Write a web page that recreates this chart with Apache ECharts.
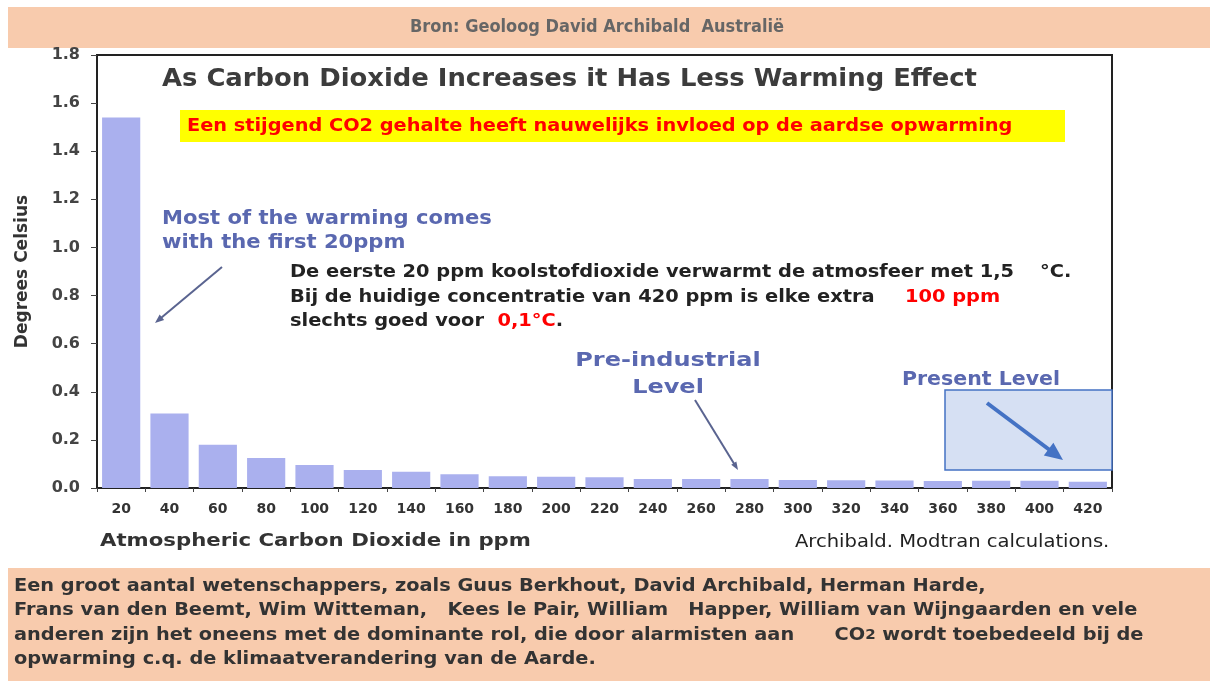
<!DOCTYPE html>
<html>
<head>
<meta charset="utf-8">
<script src="https://cdn.jsdelivr.net/npm/echarts@6/dist/echarts.min.js"></script>
<style>
  html, body { margin: 0; padding: 0; background: #fff; }
  #chart { width: 1210px; height: 682px; }
</style>
</head>
<body>
<div id="chart"></div>
<script>
// CO2 concentration (ppm) per bar
var ppm = ['20', '40', '60', '80', '100', '120', '140', '160', '180', '200', '220',
  '240', '260', '280', '300', '320', '340', '360', '380', '400', '420'];
// warming per extra 20 ppm, degrees Celsius
var warming = [1.54, 0.31, 0.18, 0.125, 0.096, 0.075, 0.068, 0.057, 0.049, 0.047, 0.045,
  0.037, 0.037, 0.037, 0.033, 0.032, 0.031, 0.029, 0.030, 0.030, 0.026];

var blueText = '#5a68b0';
var peach = '#f8cbad';

// arrow head polygon at (x2,y2)
function head(x1, y1, x2, y2, len, wid, color) {
  var a = Math.atan2(y2 - y1, x2 - x1);
  var bx = x2 - len * Math.cos(a), by = y2 - len * Math.sin(a);
  var px = -Math.sin(a) * wid / 2, py = Math.cos(a) * wid / 2;
  return {
    type: 'polygon', silent: true,
    shape: { points: [[x2, y2], [bx + px, by + py], [bx - px, by - py]] },
    style: { fill: color }
  };
}
function arrow(x1, y1, x2, y2, w, color, len, wid) {
  var a = Math.atan2(y2 - y1, x2 - x1);
  return [
    {
      type: 'line', silent: true,
      shape: { x1: x1, y1: y1, x2: x2 - len * 0.6 * Math.cos(a), y2: y2 - len * 0.6 * Math.sin(a) },
      style: { stroke: color, lineWidth: w }
    },
    head(x1, y1, x2, y2, len, wid, color)
  ];
}
// text element; sx = horizontal stretch
function txt(x, y, text, font, color, sx, extra) {
  var s = { text: text, font: font, fill: color, textVerticalAlign: 'middle' };
  if (extra) for (var k in extra) s[k] = extra[k];
  return { type: 'text', silent: true, x: x, y: y, scaleX: sx || 1, style: s };
}

var bold18 = 'bold 18px "DejaVu Sans"';
var blueFont = 'bold 19px "DejaVu Sans"';

var graphics = [
  // top banner
  { type: 'rect', silent: true, shape: { x: 8, y: 7, width: 1202, height: 41 }, style: { fill: peach } },
  txt(597, 27, 'Bron: Geoloog David Archibald  Australië', 'bold 18px "DejaVu Sans"', '#666', 0.9, { textAlign: 'center' }),
  // title
  txt(162, 80, 'As Carbon Dioxide Increases it Has Less Warming Effect', 'bold 24px "DejaVu Sans"', '#3c3c3c', 1.077),
  // yellow box
  { type: 'rect', silent: true, shape: { x: 180, y: 110, width: 885, height: 32 }, style: { fill: '#ffff00' } },
  txt(187, 126, 'Een stijgend CO2 gehalte heeft nauwelijks invloed op de aardse opwarming', bold18, '#ff0000', 1.073),
  // blue notes
  txt(162, 219, 'Most of the warming comes', blueFont, blueText, 1.11),
  txt(162, 243, 'with the first 20ppm', blueFont, blueText, 1.11),
  txt(668, 361, 'Pre-industrial', 'bold 20px "DejaVu Sans"', blueText, 1.2, { textAlign: 'center' }),
  txt(668, 388, 'Level', 'bold 20px "DejaVu Sans"', blueText, 1.2, { textAlign: 'center' }),
  txt(981, 380, 'Present Level', blueFont, blueText, 1.08, { textAlign: 'center' }),
  // black note
  txt(290, 272, 'De eerste 20 ppm koolstofdioxide verwarmt de atmosfeer met 1,5', bold18, '#222', 1.077),
  txt(1040, 272, '°C.', bold18, '#222', 1.077),
  txt(290, 297, 'Bij de huidige concentratie van 420 ppm is elke extra', bold18, '#222', 1.077),
  txt(905, 297, '100 ppm', bold18, '#ff0000', 1.077),
  {
    type: 'text', silent: true, x: 290, y: 321, scaleX: 1.077,
    style: {
      text: '{k|slechts goed voor  }{r|0,1°C}{k|.}', textVerticalAlign: 'middle',
      rich: { k: { font: bold18, fill: '#222' }, r: { font: bold18, fill: '#ff0000' } }
    }
  },
  // present level box
  { type: 'rect', silent: true, shape: { x: 945, y: 390, width: 167, height: 80 },
    style: { fill: '#d6e0f3', stroke: '#4472c4', lineWidth: 1.5 } },
  // axis titles / source
  txt(100, 541, 'Atmospheric Carbon Dioxide in ppm', bold18, '#333', 1.18),
  txt(795, 543, 'Archibald. Modtran calculations.', '17px "DejaVu Sans"', '#222', 1.15),
  // bottom box
  { type: 'rect', silent: true, shape: { x: 8, y: 568, width: 1202, height: 113 }, style: { fill: peach } },
  txt(14, 586, 'Een groot aantal wetenschappers, zoals Guus Berkhout, David Archibald, Herman Harde,', bold18, '#333', 1.074),
  txt(14, 610, 'Frans van den Beemt, Wim Witteman,   Kees le Pair, William   Happer, William van Wijngaarden en vele', bold18, '#333', 1.074),
  {
    type: 'text', silent: true, x: 14, y: 635, scaleX: 1.074,
    style: {
      text: '{k|anderen zijn het oneens met de dominante rol, die door alarmisten aan      CO}{s|2}{k| wordt toebedeeld bij de}',
      textVerticalAlign: 'middle',
      rich: { k: { font: bold18, fill: '#333' }, s: { font: 'bold 14px "DejaVu Sans"', fill: '#333' } }
    }
  },
  txt(14, 659, 'opwarming c.q. de klimaatverandering van de Aarde.', bold18, '#333', 1.074)
];
graphics = graphics.concat(arrow(222, 267, 155, 323, 2, '#5a6490', 9, 7));
graphics = graphics.concat(arrow(695, 400, 738, 470, 2, '#5a6490', 8, 6));
graphics = graphics.concat(arrow(987, 403, 1063, 460, 4, '#4472c4', 18, 16));

var chart = echarts.init(document.getElementById('chart'));
chart.setOption({
  animation: false,
  backgroundColor: '#fff',
  grid: {
    left: 97, right: 98, top: 55, bottom: 194,
    show: true, borderColor: '#222', borderWidth: 2, backgroundColor: 'transparent'
  },
  xAxis: {
    type: 'category',
    data: ppm,
    axisLine: { lineStyle: { color: '#222', width: 2 } },
    axisTick: { show: true, length: 4, lineStyle: { color: '#444' } },
    axisLabel: { margin: 14, color: '#333', fontSize: 14, fontWeight: 'bold', fontFamily: 'DejaVu Sans' }
  },
  yAxis: {
    type: 'value',
    min: 0, max: 1.8, interval: 0.2,
    name: 'Degrees Celsius',
    nameLocation: 'middle',
    nameGap: 66,
    nameTextStyle: { color: '#333', fontSize: 17, fontWeight: 'bold', fontFamily: 'DejaVu Sans' },
    splitLine: { show: false },
    axisLine: { show: true, lineStyle: { color: '#222', width: 2 } },
    axisTick: { show: true, length: 6, lineStyle: { color: '#444' } },
    axisLabel: {
      margin: 17, color: '#444', fontSize: 16, fontWeight: 'bold', fontFamily: 'DejaVu Sans',
      formatter: function (v) { return v.toFixed(1); }
    }
  },
  series: [{
    type: 'bar',
    data: warming,
    barCategoryGap: '21%',
    itemStyle: { color: '#aab0ee' }
  }],
  graphic: graphics
});
</script>
</body>
</html>
